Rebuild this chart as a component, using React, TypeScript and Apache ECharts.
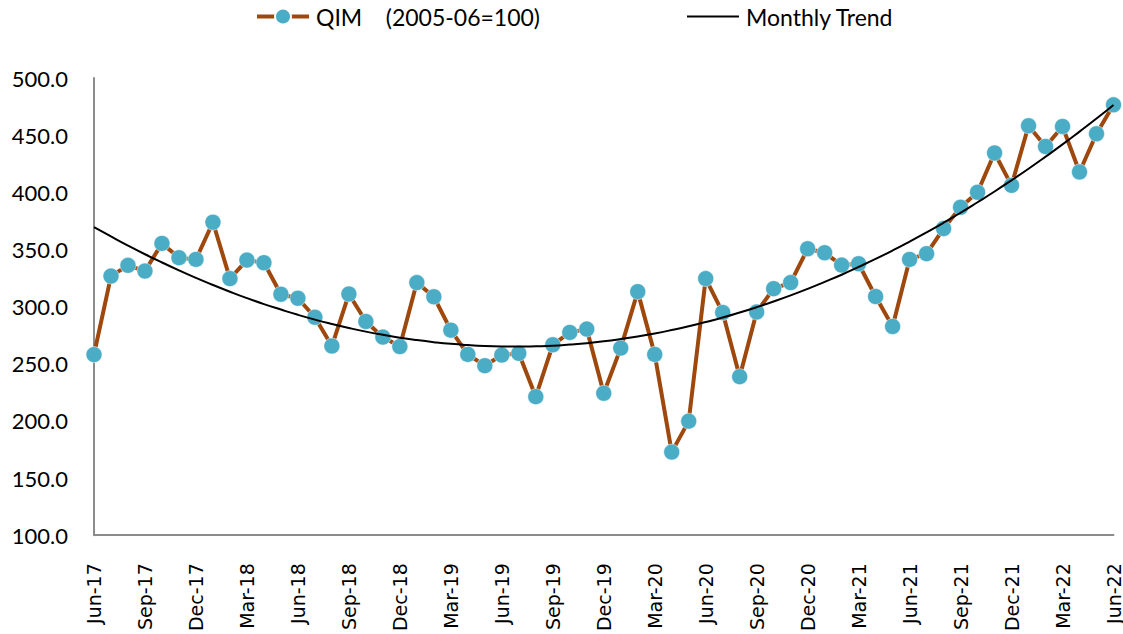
import React, { useEffect, useRef } from 'react';
import * as echarts from 'echarts';

const months = [
  'Jun-17', 'Jul-17', 'Aug-17', 'Sep-17', 'Oct-17', 'Nov-17', 'Dec-17',
  'Jan-18', 'Feb-18', 'Mar-18', 'Apr-18', 'May-18', 'Jun-18', 'Jul-18', 'Aug-18', 'Sep-18', 'Oct-18', 'Nov-18', 'Dec-18',
  'Jan-19', 'Feb-19', 'Mar-19', 'Apr-19', 'May-19', 'Jun-19', 'Jul-19', 'Aug-19', 'Sep-19', 'Oct-19', 'Nov-19', 'Dec-19',
  'Jan-20', 'Feb-20', 'Mar-20', 'Apr-20', 'May-20', 'Jun-20', 'Jul-20', 'Aug-20', 'Sep-20', 'Oct-20', 'Nov-20', 'Dec-20',
  'Jan-21', 'Feb-21', 'Mar-21', 'Apr-21', 'May-21', 'Jun-21', 'Jul-21', 'Aug-21', 'Sep-21', 'Oct-21', 'Nov-21', 'Dec-21',
  'Jan-22', 'Feb-22', 'Mar-22', 'Apr-22', 'May-22', 'Jun-22',
];

const qim = [
  258.0, 326.7, 336.1, 331.1, 355.3, 342.8, 341.3, 373.8, 324.5, 340.7,
  338.4, 310.8, 307.3, 290.7, 265.5, 311.0, 287.0, 273.3, 265.0, 321.0,
  308.6, 279.4, 258.2, 248.3, 257.6, 259.1, 221.2, 266.6, 277.4, 280.3,
  224.2, 263.7, 313.1, 258.2, 172.7, 199.8, 324.5, 294.8, 238.7, 295.3,
  315.7, 321.0, 350.6, 347.1, 336.3, 337.5, 308.8, 282.6, 341.3, 346.3,
  368.3, 386.9, 400.0, 434.4, 406.1, 458.2, 440.1, 457.6, 417.8, 451.2, 476.5,
];

const trend = [
  369.6, 361.4, 353.4, 345.8, 338.6, 331.7, 325.1, 318.9, 313.0, 307.4,
  302.2, 297.4, 292.8, 288.6, 284.8, 281.3, 278.1, 275.3, 272.8, 270.7,
  268.9, 267.4, 266.3, 265.5, 265.1, 265.0, 265.3, 265.8, 266.8, 268.0,
  269.6, 271.6, 273.9, 276.5, 279.5, 282.8, 286.5, 290.4, 294.8, 299.5,
  304.5, 309.8, 315.5, 321.6, 327.9, 334.7, 341.7, 349.1, 356.9, 365.0,
  373.4, 382.1, 391.3, 400.7, 410.5, 420.6, 431.1, 441.9, 453.1, 464.5, 476.4,
];

const seriesNames = ['QIM    (2005-06=100)', 'Monthly Trend'];

export default function App() {
  const ref = useRef<HTMLDivElement>(null);

  useEffect(() => {
    document.body.style.margin = '0';
    if (!ref.current) return;
    const chart = echarts.init(ref.current, null, { renderer: 'svg' });
    chart.setOption({
      animation: false,
      backgroundColor: '#ffffff',
      legend: {
        left: 250,
        top: 0,
        itemWidth: 52,
        itemHeight: 20,
        itemGap: 146,
        textStyle: { fontFamily: 'Lato', fontSize: 23, color: '#000000', padding: [0, 0, 0, 2] },
        data: [
          { name: seriesNames[0], lineStyle: { width: 4 } },
          { name: seriesNames[1], itemStyle: { opacity: 0 }, lineStyle: { width: 2 } },
        ],
      },
      grid: { left: 94, right: 7, top: 78, bottom: 97, containLabel: false },
      xAxis: {
        type: 'category',
        data: months,
        boundaryGap: false,
        axisLine: { show: true, lineStyle: { color: '#8c8c8c', width: 2 } },
        axisTick: { show: false },
        axisLabel: {
          interval: 2,
          rotate: 90,
          margin: 28,
          fontFamily: 'DejaVu Sans',
          fontSize: 19,
          color: '#000000',
        },
        splitLine: { show: false },
      },
      yAxis: {
        type: 'value',
        min: 100,
        max: 500,
        interval: 50,
        axisLine: { show: true, lineStyle: { color: '#8c8c8c', width: 2 } },
        axisTick: { show: false },
        axisLabel: {
          margin: 26,
          fontFamily: 'Lato',
          fontSize: 22,
          color: '#000000',
          formatter: (v: number) => v.toFixed(1),
        },
        splitLine: { show: false },
      },
      series: [
        {
          name: seriesNames[0],
          type: 'line',
          data: qim,
          symbol: 'circle',
          symbolSize: 16,
          showAllSymbol: true,
          lineStyle: { color: '#9E480E', width: 4 },
          itemStyle: { color: '#4BACC6', borderColor: '#ffffff', borderWidth: 0.5 },
          z: 2,
        },
        {
          name: seriesNames[1],
          type: 'line',
          data: trend,
          smooth: true,
          symbol: 'none',
          lineStyle: { color: '#000000', width: 2 },
          itemStyle: { color: '#000000' },
          z: 3,
        },
      ],
    });
    return () => chart.dispose();
  }, []);

  return <div ref={ref} style={{ width: 1123, height: 634 }} />;
}
